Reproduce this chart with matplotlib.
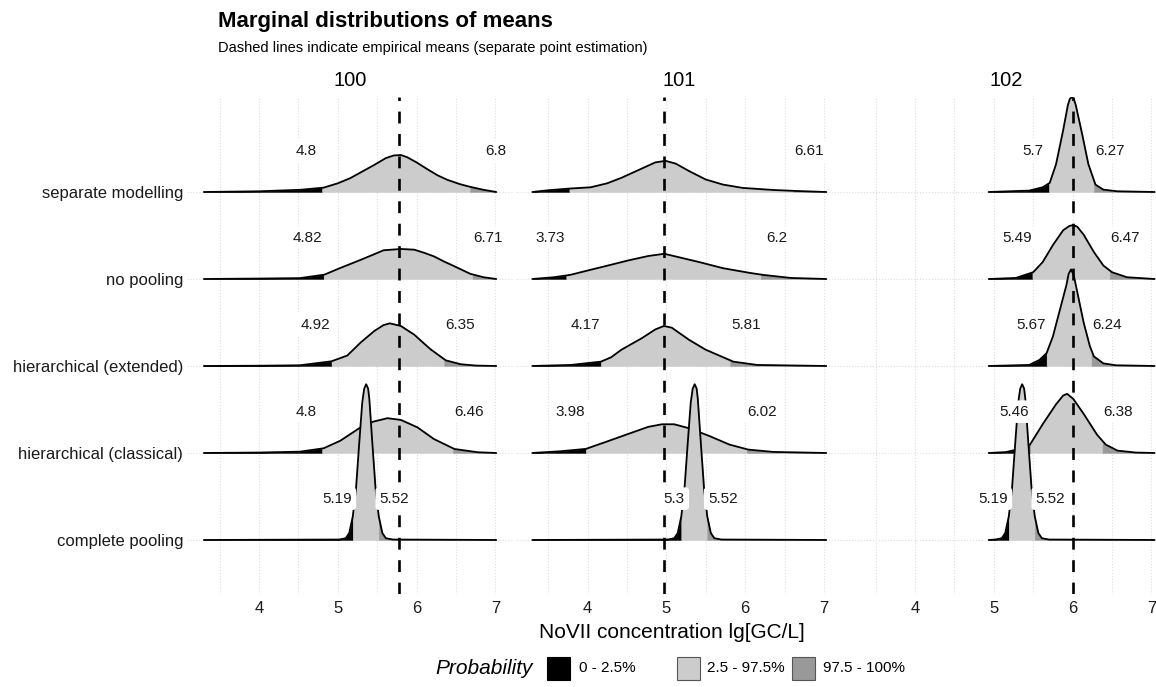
import numpy as np
import matplotlib.pyplot as plt
from matplotlib.patches import Rectangle

plt.rcParams['font.family'] = ['Liberation Sans', 'DejaVu Sans']

# rows from bottom to top
models = ['complete pooling', 'hierarchical (classical)', 'hierarchical (extended)',
          'no pooling', 'separate modelling']
locations = ['100', '101', '102']
emp_means = [5.78, 4.97, 6.0]

# x range over which the ridges are drawn in each panel
ridge_lo = [3.30, 3.30, 4.935]
ridge_hi = [7.01, 7.03, 7.04]

# density knots (x, height in row units)
pool_x = [5.02, 5.10, 5.145, 5.19, 5.23, 5.27, 5.31, 5.335, 5.36, 5.385, 5.40, 5.44, 5.48, 5.52, 5.565, 5.61, 5.70]
pool_h = [0.005, 0.02, 0.08, 0.27, 0.58, 1.09, 1.58, 1.74, 1.79, 1.74, 1.62, 1.09, 0.58, 0.27, 0.08, 0.02, 0.005]

# location 100
hcl_100_x = [4.0, 4.52, 4.82, 5.03, 5.29, 5.45, 5.63, 5.80, 6.01, 6.22, 6.48, 6.78]
hcl_100_h = [0.005, 0.015, 0.054, 0.14, 0.295, 0.36, 0.40, 0.38, 0.295, 0.16, 0.046, 0.008]
hex_100_x = [4.0, 4.52, 4.92, 5.12, 5.29, 5.46, 5.58, 5.66, 5.80, 5.97, 6.08, 6.18, 6.37, 6.56, 6.75]
hex_100_h = [0.003, 0.008, 0.054, 0.12, 0.27, 0.40, 0.47, 0.49, 0.46, 0.36, 0.27, 0.19, 0.065, 0.02, 0.005]
nop_100_x = [4.0, 4.52, 4.83, 5.03, 5.29, 5.45, 5.58, 5.80, 5.97, 6.10, 6.22, 6.35, 6.48, 6.68, 6.85]
nop_100_h = [0.005, 0.01, 0.05, 0.126, 0.22, 0.28, 0.33, 0.345, 0.337, 0.30, 0.26, 0.20, 0.146, 0.06, 0.02]
sep_100_x = [4.0, 4.52, 4.82, 5.0, 5.16, 5.30, 5.46, 5.61, 5.71, 5.80, 5.88, 6.0, 6.14, 6.27, 6.39, 6.55, 6.69, 6.85]
sep_100_h = [0.008, 0.025, 0.05, 0.10, 0.16, 0.23, 0.31, 0.39, 0.42, 0.425, 0.40, 0.34, 0.26, 0.19, 0.14, 0.09, 0.057, 0.025]

# location 101
hcl_101_x = [3.66, 3.98, 4.26, 4.52, 4.77, 4.945, 5.10, 5.29, 5.55, 5.80, 6.04, 6.36]
hcl_101_h = [0.02, 0.047, 0.136, 0.22, 0.30, 0.33, 0.33, 0.284, 0.194, 0.097, 0.039, 0.012]
hex_101_x = [3.79, 4.17, 4.30, 4.43, 4.69, 4.86, 4.97, 5.07, 5.29, 5.50, 5.85, 6.15]
hex_101_h = [0.012, 0.05, 0.10, 0.187, 0.32, 0.42, 0.46, 0.44, 0.30, 0.187, 0.05, 0.012]
nop_101_x = [3.57, 3.78, 4.0, 4.26, 4.52, 4.77, 4.975, 5.16, 5.42, 5.72, 6.06, 6.23, 6.58]
nop_101_h = [0.02, 0.047, 0.097, 0.155, 0.214, 0.264, 0.29, 0.25, 0.194, 0.124, 0.07, 0.047, 0.012]
sep_101_x = [3.5, 3.765, 4.04, 4.25, 4.43, 4.69, 4.86, 4.99, 5.12, 5.29, 5.50, 5.72, 5.97, 6.36, 6.70]
sep_101_h = [0.02, 0.039, 0.054, 0.10, 0.163, 0.27, 0.34, 0.358, 0.326, 0.24, 0.144, 0.085, 0.047, 0.023, 0.01]

# location 102
hcl_102_x = [5.15, 5.30, 5.46, 5.62, 5.79, 5.88, 5.93, 6.01, 6.14, 6.31, 6.42, 6.57, 6.80]
hcl_102_h = [0.01, 0.04, 0.097, 0.33, 0.56, 0.66, 0.68, 0.62, 0.45, 0.21, 0.097, 0.027, 0.005]
hex_102_x = [5.45, 5.58, 5.67, 5.75, 5.84, 5.92, 5.95, 5.98, 6.015, 6.05, 6.14, 6.22, 6.27, 6.39, 6.55]
hex_102_h = [0.012, 0.07, 0.148, 0.34, 0.65, 0.925, 1.06, 1.11, 1.04, 0.89, 0.50, 0.225, 0.11, 0.03, 0.008]
nop_102_x = [5.28, 5.50, 5.62, 5.75, 5.88, 5.96, 6.01, 6.06, 6.14, 6.27, 6.39, 6.50, 6.69]
nop_102_h = [0.012, 0.078, 0.194, 0.39, 0.56, 0.61, 0.62, 0.60, 0.51, 0.31, 0.155, 0.078, 0.02]
sep_102_x = [5.45, 5.62, 5.71, 5.79, 5.88, 5.94, 5.965, 5.99, 6.015, 6.04, 6.12, 6.20, 6.29, 6.39, 6.57]
sep_102_h = [0.016, 0.054, 0.105, 0.32, 0.71, 1.0, 1.07, 1.09, 1.07, 1.0, 0.67, 0.32, 0.085, 0.027, 0.008]

# 2.5% / 97.5% quantiles (fill boundaries), bottom to top
q_lo_100 = [5.19, 4.80, 4.92, 4.82, 4.80]
q_hi_100 = [5.52, 6.46, 6.35, 6.71, 6.68]
q_lo_101 = [5.19, 3.98, 4.17, 3.73, 3.77]
q_hi_101 = [5.52, 6.02, 5.81, 6.20, 6.61]
q_lo_102 = [5.19, 5.46, 5.67, 5.49, 5.70]
q_hi_102 = [5.52, 6.38, 6.24, 6.47, 6.27]

# quantile labels as printed
lab_lo_100 = ['5.19', '4.8', '4.92', '4.82', '4.8']
lab_hi_100 = ['5.52', '6.46', '6.35', '6.71', '6.8']
lab_lo_101 = ['5.3', '3.98', '4.17', '3.73', '']
lab_hi_101 = ['5.52', '6.02', '5.81', '6.2', '6.61']
lab_lo_102 = ['5.19', '5.46', '5.67', '5.49', '5.7']
lab_hi_102 = ['5.52', '6.38', '6.24', '6.47', '6.27']

legend_labels = ['0 - 2.5%', '2.5 - 97.5%', '97.5 - 100%']
fill_cols = ['black', '#CCCCCC', '#999999']

dens = {
    '100': [(pool_x, pool_h), (hcl_100_x, hcl_100_h), (hex_100_x, hex_100_h), (nop_100_x, nop_100_h), (sep_100_x, sep_100_h)],
    '101': [(pool_x, pool_h), (hcl_101_x, hcl_101_h), (hex_101_x, hex_101_h), (nop_101_x, nop_101_h), (sep_101_x, sep_101_h)],
    '102': [(pool_x, pool_h), (hcl_102_x, hcl_102_h), (hex_102_x, hex_102_h), (nop_102_x, nop_102_h), (sep_102_x, sep_102_h)],
}
q_lo = {'100': q_lo_100, '101': q_lo_101, '102': q_lo_102}
q_hi = {'100': q_hi_100, '101': q_hi_101, '102': q_hi_102}
lab_lo = {'100': lab_lo_100, '101': lab_lo_101, '102': lab_lo_102}
lab_hi = {'100': lab_hi_100, '101': lab_hi_101, '102': lab_hi_102}

W, H = 1156, 687
fig = plt.figure(figsize=(W / 100, H / 100), dpi=100)

# panel geometry in pixels
xlim = (3.09, 7.23)
px_per_unit = 78.8
panel_w = (xlim[1] - xlim[0]) * px_per_unit
panel_left = [187.3, 515.8, 843.3]
panel_top, panel_bot = 97, 594
ylim = (0.379, 6.092)


def ridge(ax, xs, hs, base, qa, qb, z):
    xs = np.asarray(xs, float)
    hs = np.asarray(hs, float)
    xx = np.union1d(xs, [qa, qb])
    yy = np.interp(xx, xs, hs)
    for a, b, col in [(xx[0], qa, fill_cols[0]), (qa, qb, fill_cols[1]), (qb, xx[-1], fill_cols[2])]:
        m = (xx >= a) & (xx <= b)
        ax.fill_between(xx[m], base, base + yy[m], facecolor=col, edgecolor=col,
                        lw=0.3, zorder=z)
    ax.plot(xx, base + yy, color='black', lw=1.3, zorder=z + 0.5,
            solid_joinstyle='round', solid_capstyle='round')


for j, loc in enumerate(locations):
    ax = fig.add_axes([panel_left[j] / W, 1 - panel_bot / H, panel_w / W, (panel_bot - panel_top) / H])
    ax.set_xlim(*xlim)
    ax.set_ylim(*ylim)
    for s in ax.spines.values():
        s.set_visible(False)
    ax.set_xticks([4, 5, 6, 7])
    ax.set_xticks([3.5, 4.5, 5.5, 6.5], minor=True)
    ax.tick_params(which='both', length=0, labelsize=12, colors='#1a1a1a')
    ax.tick_params(axis='x', pad=5)
    ax.set_yticks(range(1, 6))
    if j == 0:
        ax.set_yticklabels(models)
        ax.tick_params(axis='y', pad=3)
    else:
        ax.set_yticklabels([])
    ax.grid(True, which='both', color='#DDDDDD', lw=0.8, ls=':')
    ax.set_axisbelow(True)
    ax.set_title(loc, fontsize=14.5, pad=8)

    for i, m in enumerate(models):
        xs, hs = dens[loc][i]
        xs = [ridge_lo[j]] + list(xs) + [ridge_hi[j]]
        hs = [0] + list(hs) + [0]
        ridge(ax, xs, hs, i + 1, q_lo[loc][i], q_hi[loc][i], 2 + (5 - i))
        ylab = i + 1 + 0.475
        bbox = dict(boxstyle='round,pad=0.28,rounding_size=0.2', fc='white', ec='none')
        if lab_lo[loc][i]:
            ax.text(float(lab_lo[loc][i]) - 0.2, ylab, lab_lo[loc][i], ha='center', va='center',
                    fontsize=11, color='#1a1a1a', bbox=bbox, zorder=20)
        if lab_hi[loc][i]:
            ax.text(float(lab_hi[loc][i]) + 0.2, ylab, lab_hi[loc][i], ha='center', va='center',
                    fontsize=11, color='#1a1a1a', bbox=bbox, zorder=20)

    ax.axvline(emp_means[j], color='black', lw=1.9, dashes=(4.5, 4), zorder=15)

# titles
fig.text(218 / W, 1 - 21 / H, 'Marginal distributions of means', fontsize=16,
         fontweight='bold', ha='left', va='center')
fig.text(218 / W, 1 - 48 / H, 'Dashed lines indicate empirical means (separate point estimation)',
         fontsize=10.5, ha='left', va='center')
fig.text(671.5 / W, 1 - 632 / H, 'NoVII concentration lg[GC/L]', fontsize=15,
         ha='center', va='center')

# legend
ly = 1 - 668 / H
fig.text(435 / W, ly, 'Probability', fontsize=15, style='italic', ha='left', va='center')
key_x = [547, 677, 792]
text_x = [579, 707, 823]
for kx, tx, col, lab in zip(key_x, text_x, fill_cols, legend_labels):
    fig.add_artist(Rectangle((kx / W, ly - 11.5 / H), 23 / W, 23 / H, transform=fig.transFigure,
                             facecolor=col, edgecolor='#555555' if col != 'black' else 'black', lw=0.8))
    fig.text(tx / W, ly, lab, fontsize=11, ha='left', va='center')

fig.savefig('out.png', dpi=100)
